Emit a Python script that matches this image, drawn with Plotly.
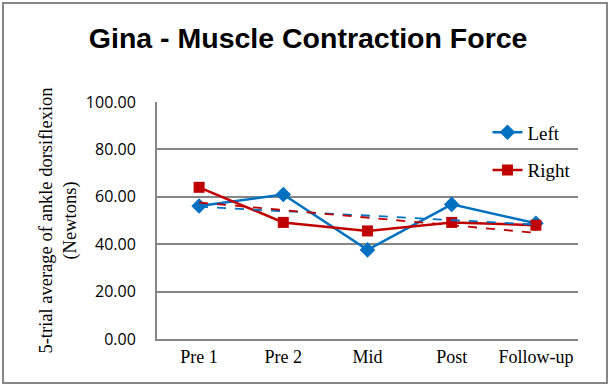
# Gina - 근육 수축력 (좌/우 + 선형 추세선)
import plotly.graph_objects as go
import numpy as np

categories = ["Pre 1", "Pre 2", "Mid", "Post", "Follow-up"]
left_vals = [56.1, 61.0, 37.6, 56.8, 48.8]
right_vals = [64.0, 49.2, 45.6, 49.2, 48.0]
y_ticks = [0, 20, 40, 60, 80, 100]

BLUE = "rgb(0,112,192)"
RED = "rgb(192,0,0)"
GRAY = "#868686"

# 추세선 (Excel 선형 추세선처럼 최소제곱)
idx = np.arange(1, len(categories) + 1)
left_fit = np.polyval(np.polyfit(idx, left_vals, 1), idx)
right_fit = np.polyval(np.polyfit(idx, right_vals, 1), idx)

fig = go.Figure()

fig.add_trace(go.Scatter(
    x=categories, y=left_vals, name="Left", mode="lines+markers",
    line=dict(color=BLUE, width=2.5),
    marker=dict(symbol="diamond", size=12, color=BLUE),
    legendgroup="a",
))
fig.add_trace(go.Scatter(
    x=categories, y=right_vals, name="Right", mode="lines+markers",
    line=dict(color=RED, width=2.5),
    marker=dict(symbol="square", size=11, color=RED),
    legendgroup="b",
))
fig.add_trace(go.Scatter(
    x=categories, y=left_fit, mode="lines", showlegend=False, hoverinfo="skip",
    line=dict(color=BLUE, width=1.8, dash="dash"),
))
fig.add_trace(go.Scatter(
    x=categories, y=right_fit, mode="lines", showlegend=False, hoverinfo="skip",
    line=dict(color=RED, width=1.8, dash="dash"),
))

W, H = 609, 388
L, R, T, B = 157, 31, 102, 49
pw, ph = W - L - R, H - T - B

# 차트 바깥 테두리
fig.add_shape(
    type="rect", xref="paper", yref="paper",
    x0=(3 - L) / pw, x1=(W - 2 - L) / pw,
    y0=-(B - 5) / ph, y1=(ph + T - 3) / ph,
    line=dict(color=GRAY, width=2), layer="below",
)

fig.update_layout(
    width=W, height=H,
    margin=dict(l=L, r=R, t=T, b=B),
    paper_bgcolor="white", plot_bgcolor="white",
    title=dict(
        text="<b>Gina - Muscle Contraction Force</b>",
        x=0.506, xanchor="center", y=1 - 38 / H, yanchor="middle",
        font=dict(family="Liberation Sans, Arial", size=28.5, color="black"),
    ),
    xaxis=dict(
        showgrid=False, showline=True, linecolor=GRAY, linewidth=2,
        ticks="", tickfont=dict(family="Liberation Serif, Times New Roman", size=18, color="black"),
        range=[-0.5, 4.5],
    ),
    yaxis=dict(
        range=[0, 100], tickvals=y_ticks, tickformat=".2f",
        showgrid=True, gridcolor=GRAY, gridwidth=1.5,
        showline=True, linecolor=GRAY, linewidth=2,
        ticks="", ticklabelstandoff=16,
        tickfont=dict(family="Open Sans, Liberation Sans", size=16, color="black"),
        title=dict(
            text="5-trial average of ankle dorsiflexion<br>(Newtons)",
            font=dict(family="Liberation Serif, Times New Roman", size=18.5, color="black"),
            standoff=4,
        ),
        zeroline=False,
    ),
    legend=dict(
        x=0.785, y=0.952, xanchor="left", yanchor="top",
        bgcolor="rgba(0,0,0,0)", tracegroupgap=10, traceorder="grouped",
        font=dict(family="Liberation Serif, Times New Roman", size=19, color="black"),
    ),
)

fig.write_html("out.html", config={"displayModeBar": False},
               post_script="document.body.style.margin='0';")
